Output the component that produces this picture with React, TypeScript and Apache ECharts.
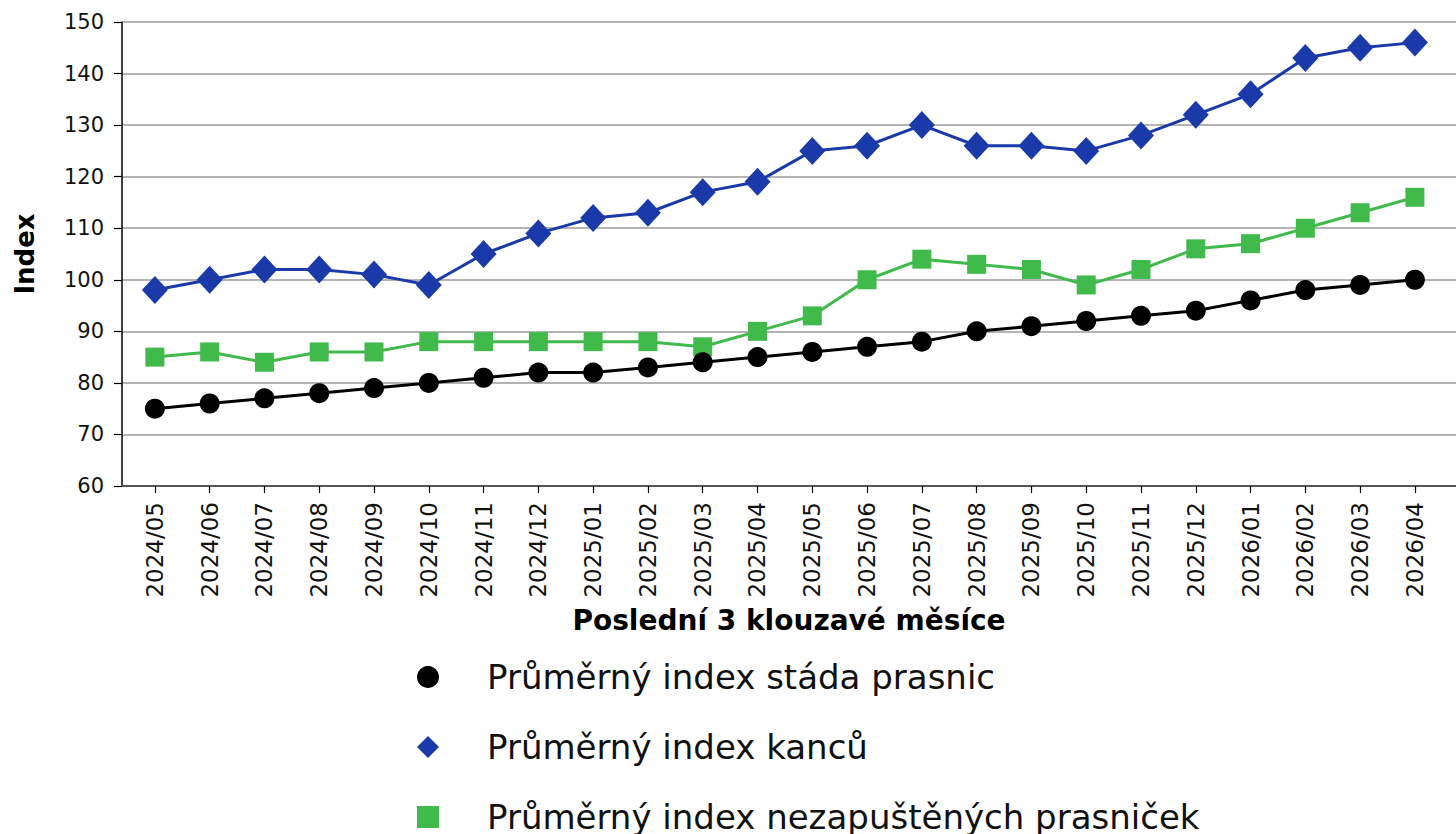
import React, { useEffect, useRef } from "react";
import * as echarts from "echarts";

const months = [
  "2024/05", "2024/06", "2024/07", "2024/08", "2024/09", "2024/10", "2024/11", "2024/12",
  "2025/01", "2025/02", "2025/03", "2025/04", "2025/05", "2025/06", "2025/07", "2025/08",
  "2025/09", "2025/10", "2025/11", "2025/12", "2026/01", "2026/02", "2026/03", "2026/04",
];

const sowHerd = [75, 76, 77, 78, 79, 80, 81, 82, 82, 83, 84, 85, 86, 87, 88, 90, 91, 92, 93, 94, 96, 98, 99, 100];
const boars = [98, 100, 102, 102, 101, 99, 105, 109, 112, 113, 117, 119, 125, 126, 130, 126, 126, 125, 128, 132, 136, 143, 145, 146];
const gilts = [85, 86, 84, 86, 86, 88, 88, 88, 88, 88, 87, 90, 93, 100, 104, 103, 102, 99, 102, 106, 107, 110, 113, 116];

const seriesNames = [
  "Průměrný index stáda prasnic",
  "Průměrný index kanců",
  "Průměrný index nezapuštěných prasniček",
];
const yTicks = [60, 70, 80, 90, 100, 110, 120, 130, 140, 150];

const FONT = "DejaVu Sans";
const BLACK = "#000000";
const BLUE = "#1b3aaa";
const GREEN = "#3fba4b";

export default function App() {
  const ref = useRef<HTMLDivElement>(null);
  useEffect(() => {
    if (!ref.current) return;
    const chart = echarts.init(ref.current, undefined, { renderer: "svg" });
    const idx = months.map((_, i) => i);
    const toPairs = (arr: number[]) => arr.map((v, i) => [i, v]);
    chart.setOption({
      animation: false,
      backgroundColor: "#ffffff",
      textStyle: { fontFamily: FONT },
      grid: { left: 122, right: 0, top: 22, bottom: 348, containLabel: false },
      xAxis: {
        type: "value",
        min: -0.6,
        max: 23.75,
        name: "Poslední 3 klouzavé měsíce",
        nameLocation: "middle",
        nameGap: 120,
        nameTextStyle: { fontFamily: FONT, fontSize: 28, fontWeight: "bold", color: "#000" },
        axisLine: { show: true, onZero: false, lineStyle: { color: "#555", width: 2 } },
        axisTick: { show: true, customValues: idx, length: 7, lineStyle: { color: "#000", width: 1.2 } },
        axisLabel: {
          customValues: idx,
          rotate: 90,
          margin: 16,
          fontFamily: FONT,
          fontSize: 23,
          color: "#111",
          formatter: (v: number) => months[Math.round(v)] ?? "",
        },
        splitLine: { show: false },
      },
      yAxis: {
        type: "value",
        min: yTicks[0],
        max: yTicks[yTicks.length - 1],
        interval: 10,
        name: "Index",
        nameLocation: "middle",
        nameGap: 84,
        nameRotate: 90,
        nameTextStyle: { fontFamily: FONT, fontSize: 26, fontWeight: "bold", color: "#000" },
        axisLine: { show: true, onZero: false, lineStyle: { color: "#000", width: 1.5 } },
        axisTick: { show: true, length: 8, lineStyle: { color: "#000", width: 1.2 } },
        axisLabel: { margin: 18, fontFamily: FONT, fontSize: 21, color: "#111" },
        splitLine: { show: true, lineStyle: { color: "#9a9a9a", width: 1.5 } },
      },
      legend: {
        orient: "vertical",
        left: 417,
        top: 660,
        width: 900,
        height: 240,
        padding: 0,
        itemWidth: 22,
        itemHeight: 22,
        itemGap: 36,
        textStyle: { fontFamily: FONT, fontSize: 34, color: "#111", lineHeight: 30, padding: [0, 0, 0, 43] },
        data: [
          { name: seriesNames[0], icon: "circle" },
          { name: seriesNames[1], icon: "diamond" },
          { name: seriesNames[2], icon: "rect" },
        ],
      },
      series: [
        {
          name: seriesNames[2],
          type: "line",
          data: toPairs(gilts),
          symbol: "rect",
          symbolSize: 19,
          z: 2,
          lineStyle: { color: GREEN, width: 3 },
          itemStyle: { color: GREEN },
        },
        {
          name: seriesNames[1],
          type: "line",
          data: toPairs(boars),
          symbol: "diamond",
          symbolSize: [26, 28],
          z: 3,
          lineStyle: { color: BLUE, width: 3 },
          itemStyle: { color: BLUE },
        },
        {
          name: seriesNames[0],
          type: "line",
          data: toPairs(sowHerd),
          symbol: "circle",
          symbolSize: 20,
          z: 4,
          lineStyle: { color: BLACK, width: 3 },
          itemStyle: { color: BLACK },
        },
      ],
    });
    return () => chart.dispose();
  }, []);
  return (
    <div
      ref={ref}
      style={{ position: "fixed", left: 0, top: 0, width: 1456, height: 834 }}
    />
  );
}
